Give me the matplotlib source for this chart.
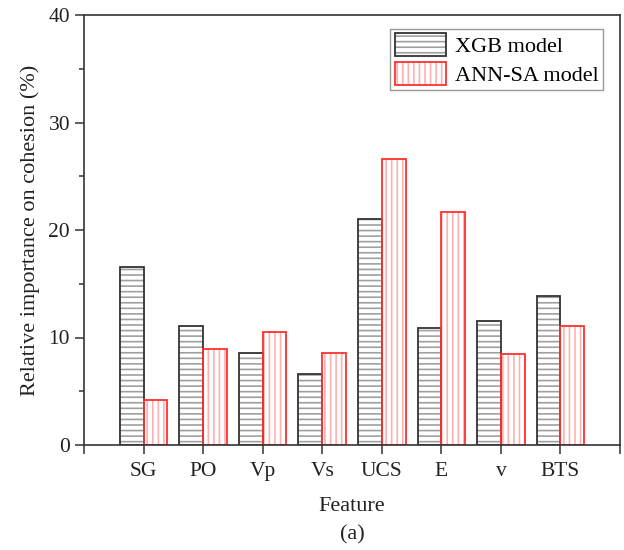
import matplotlib
matplotlib.use("Agg")
import matplotlib.pyplot as plt
import numpy as np
from matplotlib.patches import Patch
from matplotlib.legend_handler import HandlerTuple

features = ["SG", "PO", "Vp", "Vs", "UCS", "E", "v", "BTS"]
xgb = [16.6, 11.05, 8.55, 6.65, 21.05, 10.85, 11.55, 13.85]
ann = [4.2, 8.95, 10.55, 8.6, 26.6, 21.7, 8.45, 11.1]

plt.rcParams['font.family'] = ['Liberation Serif', 'DejaVu Serif']
plt.rcParams['hatch.linewidth'] = 1.2

fig = plt.figure(figsize=(6.24, 5.5), dpi=100)
ax = fig.add_axes([84/624, 1 - 445/550, (620-84)/624, (445-15)/550])

x = np.arange(1, len(features) + 1)
w = 0.4
dark = '#333333'
red = '#ff3030'
xgb_hatch = '#a0a0a0'
ann_hatch = '#ffb0b0'
# hatch layers
ax.bar(x - w, xgb, width=w, align='edge', facecolor='white', edgecolor=xgb_hatch, hatch='---', linewidth=0)
ax.bar(x, ann, width=w, align='edge', facecolor='white', edgecolor=ann_hatch, hatch='|||', linewidth=0)
# outlines
ax.bar(x - w, xgb, width=w, align='edge', facecolor='none', edgecolor=dark, linewidth=1.3)
ax.bar(x, ann, width=w, align='edge', facecolor='none', edgecolor=red, linewidth=1.3)

ax.set_xlim(0, 9)
ax.set_ylim(0, 40)
ax.set_xticks(np.arange(0, 10))
ax.set_xticklabels([""] + features + [""])
ax.set_yticks([0, 10, 20, 30, 40])
ax.set_yticks([5, 15, 25, 35], minor=True)
ax.tick_params(axis='both', which='major', direction='out', length=6.5, width=1.1, labelsize=15.5, colors=dark, labelcolor='#222222')
ax.tick_params(axis='y', which='minor', direction='out', length=3.5, width=1.1, colors=dark)
ax.tick_params(axis='x', pad=6)
for s in ax.spines.values():
    s.set_linewidth(1.2)
    s.set_color(dark)

ax.set_ylabel("Relative importance on cohesion (%)", fontsize=16, color='#222222', labelpad=6)
ax.set_xlabel("Feature", fontsize=16, color='#222222', labelpad=11)
fig.text(352/624, 1 - 535/550, "(a)", fontsize=16, ha='center', va='center', color='#222222')

h1 = (Patch(facecolor='white', edgecolor=xgb_hatch, hatch='---', linewidth=0),
      Patch(facecolor='none', edgecolor=dark, linewidth=1.3))
h2 = (Patch(facecolor='white', edgecolor=ann_hatch, hatch='|||', linewidth=0),
      Patch(facecolor='none', edgecolor=red, linewidth=1.3))
leg = ax.legend([h1, h2], ["XGB model", "ANN-SA model"], loc='upper right',
                bbox_to_anchor=((603-84)/536, (445-29)/430), fontsize=16,
                handler_map={tuple: HandlerTuple(ndivide=1, pad=0)},
                fancybox=False, edgecolor='#999999', framealpha=1,
                handlelength=2.3, handleheight=1.2, labelspacing=0.2,
                handletextpad=0.4, borderpad=0.2, borderaxespad=0)
leg.get_frame().set_linewidth(1.0)

fig.savefig("out.png", dpi=100)
